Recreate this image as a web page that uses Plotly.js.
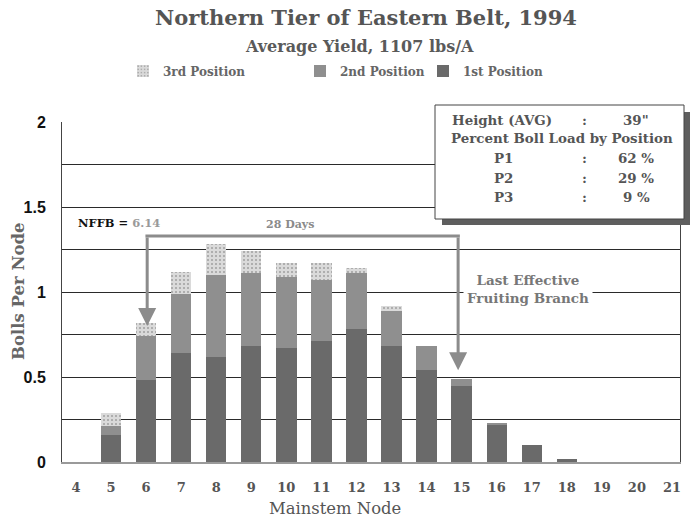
<!DOCTYPE html>
<html>
<head>
<meta charset="utf-8">
<script src="https://cdn.plot.ly/plotly-3.0.1.min.js"></script>
<style>html,body{margin:0;padding:0;background:#fff;}#chart{width:692px;height:525px;}</style>
</head>
<body>
<div id="chart"></div>
<script>
// Mainstem nodes
const nodes = [4, 5, 6, 7, 8, 9, 10, 11, 12, 13, 14, 15, 16, 17, 18, 19, 20, 21];
// Bolls per node by fruiting position
const firstPos  = [0, 0.16, 0.48, 0.64, 0.62, 0.68, 0.67, 0.71, 0.78, 0.68, 0.54, 0.45, 0.22, 0.10, 0.02, 0, 0, 0];
const secondPos = [0, 0.05, 0.26, 0.35, 0.48, 0.43, 0.42, 0.36, 0.33, 0.21, 0.14, 0.04, 0.01, 0, 0, 0, 0, 0];
const thirdPos  = [0, 0.08, 0.08, 0.13, 0.18, 0.13, 0.08, 0.10, 0.03, 0.03, 0, 0, 0, 0, 0, 0, 0, 0];
const seriesNames = ['1st Position', '2nd Position', '3rd Position'];
// Annotation values
const nffb = 6.14;
const arrowStartNode = 6.03, arrowEndNode = 14.9, arrowLevel = 1.33;
const arrowTipLeft = 0.80, arrowTipRight = 0.54;
const insetRows = [
  ['Height (AVG)', ':', '39"'],
  ['P1', ':', '62 %'],
  ['P2', ':', '29 %'],
  ['P3', ':', '9 %']
];

const serif = 'DejaVu Serif, Liberation Serif, serif';
const grey = '#5a5a5a';

function px2x(p){ return (p - 62) / 618; }
function px2y(p){ return (462 - p) / 340; }

const traces = [
  {type: 'bar', x: nodes, y: firstPos, name: seriesNames[0], width: 0.58,
   marker: {color: '#6a6a6a', line: {width: 0}}, legend: 'legend3'},
  {type: 'bar', x: nodes, y: secondPos, name: seriesNames[1], width: 0.58,
   marker: {color: '#8f8f8f', line: {width: 0}}, legend: 'legend2'},
  {type: 'bar', x: nodes, y: thirdPos, name: seriesNames[2], width: 0.58,
   marker: {color: '#d8d8d8', line: {width: 0},
            pattern: {shape: '.', fgcolor: '#a0a0a0', bgcolor: '#dadada', size: 4, solidity: 0.2}},
   legend: 'legend'}
];

const legendFont = {family: serif, size: 12, color: '#666', weight: 'bold'};
function mkLegend(xpx){
  return {orientation: 'h', x: px2x(xpx), xanchor: 'left', y: px2y(71), yanchor: 'middle',
          font: legendFont, itemwidth: 30, bgcolor: 'rgba(0,0,0,0)'};
}

const annotations = [
  {xref: 'paper', yref: 'paper', x: px2x(359), y: px2y(47), text: '<b>Average Yield, 1107 lbs/A</b>',
   showarrow: false, font: {family: serif, size: 16, color: grey}, xanchor: 'center', yanchor: 'middle'},
  {xref: 'x', yref: 'y', x: 4.0, y: 1.405, xanchor: 'left', yanchor: 'middle', showarrow: false,
   text: '<b>NFFB = </b><span style="color:#9a9a9a"><b>' + nffb.toFixed(2) + '</b></span>',
   font: {family: serif, size: 11.5, color: '#111'}},
  {xref: 'x', yref: 'y', x: 10.1, y: 1.395, showarrow: false, text: '<b>28 Days</b>',
   font: {family: serif, size: 11, color: '#8a8a8a'}, xanchor: 'center', yanchor: 'middle'},
  {xref: 'x', yref: 'y', x: 16.9, y: 1.02, showarrow: false, text: '<b>Last Effective<br>Fruiting Branch</b>',
   font: {family: serif, size: 13.5, color: '#777'}, xanchor: 'center', yanchor: 'middle', align: 'center',
   bgcolor: '#ffffff', borderpad: 3},
  {xref: 'paper', yref: 'paper', x: px2x(335), y: px2y(508), text: 'Mainstem Node', showarrow: false,
   font: {family: serif, size: 16.4, color: '#555'}, xanchor: 'center', yanchor: 'middle'},
  {xref: 'paper', yref: 'paper', x: px2x(18), y: px2y(291), text: '<b>Bolls Per Node</b>', showarrow: false,
   textangle: -90, font: {family: serif, size: 16.5, color: '#666'}, xanchor: 'center', yanchor: 'middle'},
  {xref: 'x', yref: 'y', axref: 'x', ayref: 'y', x: arrowStartNode, y: arrowTipLeft,
   ax: arrowStartNode, ay: arrowLevel, text: '', showarrow: true, arrowhead: 2, arrowsize: 1.2,
   arrowwidth: 3, arrowcolor: '#8c8c8c'},
  {xref: 'x', yref: 'y', axref: 'x', ayref: 'y', x: arrowEndNode, y: arrowTipRight,
   ax: arrowEndNode, ay: arrowLevel, text: '', showarrow: true, arrowhead: 2, arrowsize: 1.2,
   arrowwidth: 3, arrowcolor: '#8c8c8c'}
];

// inset text
const insetFont = {family: serif, size: 13.4, color: '#555'};
const rowY = [120, 158, 178, 197];
insetRows.forEach((r, i) => {
  const y = px2y(rowY[i]);
  const x0 = i === 0 ? 450 : 492;
  annotations.push({xref: 'paper', yref: 'paper', x: px2x(x0), y: y, xanchor: 'left', yanchor: 'middle',
    showarrow: false, text: '<b>' + r[0] + '</b>', font: insetFont});
  annotations.push({xref: 'paper', yref: 'paper', x: px2x(584), y: y, xanchor: 'center', yanchor: 'middle',
    showarrow: false, text: '<b>' + r[1] + '</b>', font: insetFont});
  annotations.push({xref: 'paper', yref: 'paper', x: px2x(636), y: y, xanchor: 'center', yanchor: 'middle',
    showarrow: false, text: '<b>' + r[2] + '</b>', font: insetFont});
});
annotations.push({xref: 'paper', yref: 'paper', x: px2x(449), y: px2y(138), xanchor: 'left', yanchor: 'middle',
  showarrow: false, text: '<b>Percent Boll Load by Position</b>', font: insetFont});

const shapes = [
  {type: 'line', xref: 'x', yref: 'y', x0: arrowStartNode - 0.05, x1: arrowEndNode + 0.05, y0: arrowLevel, y1: arrowLevel,
   line: {color: '#8c8c8c', width: 3}, layer: 'above'},
  {type: 'rect', xref: 'paper', yref: 'paper', x0: px2x(442), x1: px2x(690), y0: px2y(225), y1: px2y(112),
   fillcolor: '#5e5e5e', line: {width: 0}, layer: 'above'},
  {type: 'rect', xref: 'paper', yref: 'paper', x0: px2x(435), x1: px2x(684), y0: px2y(219), y1: px2y(105),
   fillcolor: '#ffffff', line: {color: '#444', width: 1}, layer: 'above'}
];

const layout = {
  width: 692, height: 525,
  margin: {l: 62, r: 12, t: 122, b: 63},
  paper_bgcolor: '#fff', plot_bgcolor: '#fff',
  barmode: 'stack',
  title: {text: '<b>Northern Tier of Eastern Belt, 1994</b>', x: 366 / 692, xanchor: 'center',
          y: 1 - 18 / 525, yanchor: 'middle', yref: 'container', font: {family: serif, size: 21, color: '#555'}},
  showlegend: true,
  legend: mkLegend(123),
  legend2: mkLegend(300),
  legend3: mkLegend(423),
  xaxis: {range: [3.6, 21.23], tickmode: 'array', tickvals: nodes, ticktext: nodes.map(String),
          showgrid: false, zeroline: false, showline: true, linecolor: '#9a9a9a', linewidth: 2,
          ticks: '', ticklabelstandoff: 12, tickfont: {family: serif, size: 13, color: '#555', weight: 'bold'}},
  yaxis: {range: [0, 2], tickvals: [0, 0.5, 1, 1.5, 2], ticktext: ['0', '0.5', '1', '1.5', '2'],
          tickmode: 'array',
          showgrid: true, gridcolor: '#2a2a2a', gridwidth: 1,
          minor: {tickmode: 'array', tickvals: [0.25, 0.75, 1.25, 1.75], showgrid: true, gridcolor: '#2a2a2a', gridwidth: 1},
          zeroline: false, showline: true, linecolor: '#444', linewidth: 1, mirror: true,
          ticks: '', ticklabelstandoff: 12,
          tickfont: {family: 'Liberation Sans, Arial, sans-serif', size: 16, color: '#111', weight: 'bold'}},
  annotations: annotations,
  shapes: shapes
};

Plotly.newPlot('chart', traces, layout, {displayModeBar: false, staticPlot: true});
</script>
</body>
</html>
